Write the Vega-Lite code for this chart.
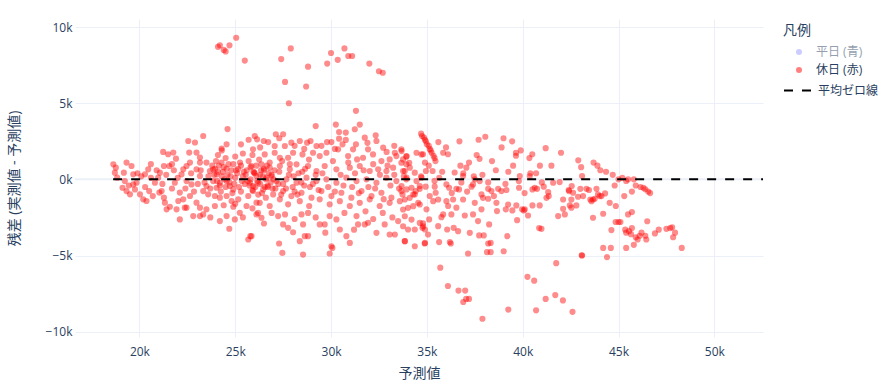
{
"$schema":"https://vega.github.io/schema/vega-lite/v6.json",
"autosize":{"type":"none"},
"width":688,"height":318,
"padding":{"left":75,"top":19,"right":120,"bottom":49},
"background":"white",
"config":{"view":{"stroke":null},"font":"Open Sans, Noto Sans CJK JP, sans-serif"},
"datasets":{"pts":[
{"x":24100,"y":8700},{"x":24200,"y":8800},{"x":24400,"y":8500},{"x":24500,"y":8400},{"x":24700,"y":8800},{"x":25050,"y":9300},{"x":25500,"y":7800},{"x":27400,"y":7900},{"x":27900,"y":8600},{"x":27600,"y":6400},{"x":27800,"y":5000},{"x":28800,"y":7400},{"x":28700,"y":6100},{"x":29800,"y":7600},{"x":30000,"y":8300},{"x":30350,"y":7850},{"x":30700,"y":8600},{"x":30900,"y":8100},{"x":31100,"y":8100},{"x":31300,"y":4500},{"x":32000,"y":7600},{"x":32500,"y":7100},{"x":32700,"y":7000},{"x":31500,"y":3600},{"x":29200,"y":3500},{"x":24600,"y":3300},{"x":30250,"y":3600},{"x":31240,"y":3290},
{"x":35700,"y":-5800},{"x":36100,"y":-7000},{"x":36650,"y":-7300},{"x":37000,"y":-7300},{"x":37050,"y":-7850},{"x":36900,"y":-8050},{"x":37200,"y":-7850},{"x":37900,"y":-9150},{"x":39250,"y":-8550},{"x":40250,"y":-6400},{"x":40600,"y":-6650},{"x":40700,"y":-8600},{"x":41200,"y":-7850},{"x":41700,"y":-7600},{"x":42100,"y":-7950},{"x":42600,"y":-8700},{"x":41750,"y":-5500},{"x":43100,"y":-5000},{"x":44400,"y":-5100},{"x":44200,"y":-4500},{"x":44600,"y":-4500},{"x":45400,"y":-4500},{"x":45800,"y":-4300},{"x":48300,"y":-4500},
{"x":44700,"y":300},{"x":45000,"y":0},{"x":45200,"y":100},{"x":45400,"y":-100},{"x":45500,"y":0},{"x":45800,"y":0},{"x":44800,"y":-400},{"x":45300,"y":-1100},{"x":45900,"y":-400},{"x":46150,"y":-500},{"x":46300,"y":-550},{"x":46400,"y":-650},{"x":46550,"y":-800},{"x":46650,"y":-900},{"x":45700,"y":-800},
{"x":44850,"y":-2800},{"x":45000,"y":-2800},{"x":45100,"y":-2800},{"x":45350,"y":-3300},{"x":45400,"y":-3500},{"x":45550,"y":-3400},{"x":45700,"y":-3200},{"x":45700,"y":-2150},{"x":45500,"y":-2300},{"x":45650,"y":-3600},{"x":45900,"y":-3800},{"x":46000,"y":-3950},{"x":46100,"y":-3700},{"x":46200,"y":-3500},{"x":46400,"y":-3700},{"x":46450,"y":-3950},{"x":46500,"y":-2750},{"x":46900,"y":-3550},{"x":47100,"y":-3300},{"x":47500,"y":-3250},{"x":47700,"y":-3200},{"x":47800,"y":-3150},{"x":47950,"y":-3500},{"x":47850,"y":-3800},
{"x":34700,"y":3000},{"x":34850,"y":2750},{"x":34950,"y":2500},{"x":35100,"y":2200},{"x":35150,"y":2000},{"x":35250,"y":1750},{"x":35350,"y":1550},{"x":35450,"y":1200},{"x":35600,"y":2450},{"x":35850,"y":1750},{"x":36000,"y":2100},{"x":36100,"y":1650},{"x":34800,"y":1650},{"x":34900,"y":1100},{"x":35100,"y":900},{"x":35300,"y":550},{"x":34950,"y":550},{"x":34700,"y":200},{"x":35400,"y":-100},{"x":35650,"y":100},{"x":36700,"y":2500},{"x":37700,"y":2600},{"x":38050,"y":2800},{"x":37600,"y":1600},{"x":37750,"y":1350},{"x":36750,"y":900},{"x":37200,"y":1100},{"x":36450,"y":450},{"x":36900,"y":400},{"x":37450,"y":200},{"x":38200,"y":-200},{"x":38600,"y":600},{"x":39000,"y":2700},{"x":38900,"y":2100},{"x":39450,"y":2500},{"x":39250,"y":500},{"x":39650,"y":1550},{"x":39900,"y":1900},{"x":39650,"y":1750},{"x":40350,"y":1400},{"x":40500,"y":1650},{"x":40400,"y":400},{"x":40700,"y":400},{"x":41200,"y":2050},{"x":41500,"y":900},{"x":42000,"y":1750},{"x":42900,"y":1250},{"x":43050,"y":800},{"x":43700,"y":1100},{"x":43900,"y":900},{"x":44050,"y":600},{"x":44350,"y":500},
{"x":34630,"y":-440},{"x":34940,"y":-480},{"x":35410,"y":-480},{"x":35460,"y":-880},{"x":36020,"y":-330},{"x":36160,"y":-550},{"x":36540,"y":-620},{"x":36680,"y":-660},{"x":37410,"y":-330},{"x":37330,"y":-480},{"x":37850,"y":-990},{"x":37930,"y":-1210},{"x":38200,"y":-620},{"x":38720,"y":-620},{"x":39150,"y":-700},{"x":39800,"y":-110},{"x":39810,"y":-550},{"x":40510,"y":-660},{"x":40750,"y":-620},{"x":41100,"y":-480},{"x":41330,"y":-840},{"x":41930,"y":-180},{"x":42400,"y":-700},{"x":42560,"y":-440},{"x":43010,"y":-620},{"x":43460,"y":-700},{"x":43850,"y":-620},{"x":44300,"y":-920},{"x":44020,"y":-1100},{"x":43670,"y":-1320},{"x":43150,"y":-1100},{"x":42890,"y":-1140},{"x":42540,"y":-1320},{"x":42110,"y":-1320},{"x":42460,"y":-1710},{"x":42800,"y":-1710},{"x":42110,"y":-1930},{"x":41850,"y":-2410},{"x":42200,"y":-2300},{"x":40890,"y":-1710},{"x":40510,"y":-1710},{"x":40110,"y":-1970},{"x":39670,"y":-1710},{"x":39240,"y":-1650},{"x":38890,"y":-770},{"x":38630,"y":-1540},{"x":38200,"y":-1270},{"x":37850,"y":-1970},{"x":37500,"y":-1540},{"x":36890,"y":-1320},{"x":36540,"y":-1860},{"x":36280,"y":-2300},{"x":35850,"y":-2300},{"x":35590,"y":-3070},{"x":36060,"y":-3290},{"x":36400,"y":-3180},{"x":36630,"y":-3400},{"x":36980,"y":-2370},{"x":37410,"y":-2300},{"x":37240,"y":-3510},{"x":37730,"y":-3680},{"x":37970,"y":-3680},{"x":37670,"y":-2740},{"x":38250,"y":-2960},{"x":38660,"y":-2080},{"x":39120,"y":-1970},{"x":39460,"y":-2040},{"x":39710,"y":-2680},{"x":39970,"y":-1970},{"x":40280,"y":-2370},{"x":40860,"y":-3200},{"x":39200,"y":-3730},{"x":38200,"y":-4210},{"x":38330,"y":-4170},{"x":38140,"y":-4780},{"x":38330,"y":-4780},{"x":39010,"y":-4720},{"x":37150,"y":-4870},{"x":36200,"y":-4120},{"x":36250,"y":-4210},{"x":35640,"y":-4120},{"x":34890,"y":-4210},{"x":35060,"y":-3620},{"x":34770,"y":-3180},{"x":35760,"y":-2480},{"x":44200,"y":-2260},{"x":43670,"y":-2520},{"x":44630,"y":-3330},{"x":43080,"y":-4980},{"x":40060,"y":-2040},
{"x":36890,"y":220},{"x":37060,"y":770},{"x":37760,"y":-110},{"x":37500,"y":0},{"x":38370,"y":-770},{"x":39850,"y":220},{"x":40370,"y":220},{"x":40630,"y":-550},{"x":41360,"y":-1100},{"x":41590,"y":-220},{"x":42420,"y":-770},{"x":43100,"y":220},{"x":43330,"y":-620},{"x":43530,"y":-1320},{"x":43760,"y":-1270},{"x":44110,"y":-1100},{"x":44540,"y":-1540},{"x":44860,"y":-1750},{"x":35590,"y":-1320},{"x":35150,"y":-1100},{"x":35330,"y":-1430},{"x":36020,"y":-1430},{"x":34980,"y":-1970},{"x":34800,"y":-2890},{"x":35120,"y":-2630},{"x":36370,"y":-1320},{"x":36110,"y":-1750},
{"x":18640,"y":990},{"x":18770,"y":770},{"x":18720,"y":440},{"x":18840,"y":110},{"x":19190,"y":440},{"x":19330,"y":1100},{"x":19590,"y":880},{"x":19680,"y":330},{"x":19240,"y":-110},{"x":19120,"y":-550},{"x":19330,"y":-770},{"x":19510,"y":-980},{"x":19680,"y":-330},{"x":19850,"y":-220},{"x":19770,"y":-660},{"x":20030,"y":-980},{"x":20200,"y":-1310},{"x":20370,"y":-1420},{"x":20510,"y":-770},{"x":20460,"y":660},{"x":20290,"y":330},{"x":20810,"y":-220},{"x":20980,"y":110},{"x":21070,"y":440},{"x":21160,"y":-770},{"x":21040,"y":-870},{"x":21280,"y":-1200},{"x":21330,"y":-1530},{"x":21420,"y":-1970},{"x":21590,"y":-1800},{"x":21240,"y":1800},{"x":21500,"y":1650},{"x":21770,"y":1760},{"x":21910,"y":1360},{"x":21560,"y":880},{"x":21280,"y":880},{"x":21850,"y":-220},{"x":22200,"y":330},{"x":22290,"y":660},{"x":22460,"y":880},{"x":22640,"y":1100},{"x":22600,"y":1760},{"x":22550,"y":2520},{"x":22900,"y":2420},{"x":22980,"y":1760},{"x":23160,"y":1430},{"x":23330,"y":2850},{"x":22980,"y":660},{"x":23160,"y":220},{"x":22460,"y":-110},{"x":22720,"y":-330},{"x":22110,"y":-870},{"x":22030,"y":-1420},{"x":21940,"y":-1970},{"x":22290,"y":-1310},{"x":22460,"y":-1860},{"x":22640,"y":-1090},{"x":22980,"y":-1530},{"x":23160,"y":-1860},{"x":22810,"y":-2410},{"x":23160,"y":-2410},{"x":23330,"y":-2300},{"x":23500,"y":-1970},{"x":23940,"y":-1750},{"x":23590,"y":-980},{"x":23940,"y":-1090},{"x":23330,"y":-770},{"x":23500,"y":-440},{"x":24030,"y":-550},{"x":24200,"y":-220},{"x":24030,"y":330},{"x":24290,"y":1100},{"x":24550,"y":2300},{"x":24290,"y":2020},{"x":23850,"y":660},{"x":23500,"y":1100},{"x":23160,"y":1100},{"x":24200,"y":-2740},{"x":24550,"y":-2410},{"x":24690,"y":-3240},{"x":24900,"y":-1800},{"x":24980,"y":-2630},{"x":25160,"y":-1310},{"x":25240,"y":-2190},{"x":25680,"y":-3950},{"x":25850,"y":-3730},{"x":26110,"y":-2300},{"x":25590,"y":-1750},{"x":25680,"y":-1090},{"x":25940,"y":-440},{"x":23680,"y":550},{"x":23850,"y":-110},{"x":24550,"y":-110},{"x":24720,"y":-440},{"x":24900,"y":-660},{"x":24200,"y":-1200},{"x":24550,"y":-1090},{"x":24810,"y":-1420},{"x":22110,"y":-2630},{"x":22370,"y":-1860},{"x":26110,"y":-1530},{"x":25770,"y":-220},
{"x":23800,"y":900},{"x":24000,"y":1200},{"x":24100,"y":500},{"x":24300,"y":200},{"x":24400,"y":800},{"x":24500,"y":1400},{"x":24600,"y":300},{"x":24700,"y":-200},{"x":24800,"y":600},{"x":24900,"y":1000},{"x":25000,"y":100},{"x":25100,"y":400},{"x":25200,"y":-500},{"x":25300,"y":900},{"x":25400,"y":200},{"x":25500,"y":-300},{"x":25600,"y":600},{"x":25700,"y":1200},{"x":25800,"y":0},{"x":25900,"y":-700},{"x":26000,"y":400},{"x":26100,"y":900},{"x":26200,"y":-200},{"x":26300,"y":300},{"x":26400,"y":-900},{"x":26500,"y":700},{"x":26600,"y":0},{"x":26700,"y":-400},{"x":26800,"y":1100},{"x":26900,"y":200},{"x":23900,"y":300},{"x":24200,"y":-400},{"x":24450,"y":0},{"x":24650,"y":1000},{"x":24950,"y":-300},{"x":25150,"y":700},{"x":25350,"y":-100},{"x":25550,"y":300},{"x":25750,"y":-400},{"x":25950,"y":500},{"x":26150,"y":-100},{"x":26350,"y":600},{"x":26550,"y":-500},{"x":26750,"y":400},{"x":26950,"y":-600},{"x":24100,"y":1600},{"x":24300,"y":1900},{"x":25000,"y":1500},{"x":25400,"y":1700},{"x":25900,"y":1600},
{"x":26020,"y":2850},{"x":26140,"y":2630},{"x":26490,"y":2520},{"x":26720,"y":2450},{"x":27120,"y":2960},{"x":27500,"y":2960},{"x":27060,"y":2190},{"x":27590,"y":2190},{"x":27930,"y":2410},{"x":28370,"y":2520},{"x":28750,"y":2410},{"x":28930,"y":2520},{"x":29240,"y":2190},{"x":29790,"y":2450},{"x":30020,"y":2450},{"x":30420,"y":3110},{"x":30420,"y":2670},{"x":30770,"y":3070},{"x":30770,"y":2590},{"x":31760,"y":2740},{"x":32330,"y":2890},{"x":32370,"y":2520},{"x":31930,"y":1970},{"x":32720,"y":2080},{"x":33330,"y":1750},{"x":33670,"y":1970},{"x":33930,"y":1490},{"x":25930,"y":1970},
{"x":26540,"y":1640},{"x":27060,"y":1750},{"x":27330,"y":1420},{"x":27760,"y":1420},{"x":28020,"y":1750},{"x":28510,"y":1640},{"x":29060,"y":1750},{"x":29410,"y":1530},{"x":29760,"y":1750},{"x":30370,"y":1970},{"x":30890,"y":1530},{"x":31150,"y":1970},{"x":31360,"y":1310},{"x":31670,"y":1420},{"x":32190,"y":1640},{"x":32630,"y":1200},{"x":33060,"y":1310},{"x":33410,"y":1530},{"x":33670,"y":1090},{"x":33930,"y":990},
{"x":25850,"y":880},{"x":26370,"y":990},{"x":26800,"y":770},{"x":27330,"y":880},{"x":27850,"y":660},{"x":28200,"y":990},{"x":28800,"y":880},{"x":29240,"y":550},{"x":29670,"y":880},{"x":30280,"y":660},{"x":30980,"y":770},{"x":31500,"y":880},{"x":32020,"y":550},{"x":32460,"y":660},{"x":32890,"y":550},{"x":33240,"y":770},{"x":33760,"y":550},
{"x":26110,"y":220},{"x":26630,"y":110},{"x":27150,"y":-110},{"x":27670,"y":0},{"x":28200,"y":-220},{"x":28720,"y":110},{"x":29240,"y":-110},{"x":29760,"y":0},{"x":30280,"y":-220},{"x":30800,"y":110},{"x":31330,"y":-110},{"x":31850,"y":0},{"x":32370,"y":-220},{"x":32890,"y":110},{"x":33410,"y":-110},{"x":33930,"y":0},
{"x":25930,"y":-770},{"x":26460,"y":-660},{"x":26980,"y":-990},{"x":27500,"y":-770},{"x":27930,"y":-1100},{"x":28460,"y":-880},{"x":28980,"y":-1200},{"x":29500,"y":-770},{"x":30020,"y":-1100},{"x":30540,"y":-880},{"x":31060,"y":-1200},{"x":31590,"y":-770},{"x":32110,"y":-1100},{"x":32630,"y":-880},{"x":33150,"y":-1200},{"x":33670,"y":-770},{"x":26280,"y":-1540},{"x":26800,"y":-1750},{"x":27330,"y":-1310},{"x":27760,"y":-1640},{"x":28370,"y":-1430},{"x":28860,"y":-1750},{"x":29410,"y":-1310},{"x":29930,"y":-1640},{"x":30460,"y":-1430},{"x":30980,"y":-1750},{"x":31500,"y":-1540},{"x":32020,"y":-1310},{"x":32540,"y":-1750},{"x":33060,"y":-1540},{"x":33590,"y":-1430},
{"x":26190,"y":-2200},{"x":26370,"y":-2520},{"x":27240,"y":-2410},{"x":27500,"y":-2960},{"x":27760,"y":-3180},{"x":28020,"y":-3470},{"x":28460,"y":-2300},{"x":28540,"y":-2960},{"x":28370,"y":-4060},{"x":28630,"y":-3730},{"x":28800,"y":-3730},{"x":29410,"y":-2960},{"x":29670,"y":-2960},{"x":29930,"y":-2410},{"x":30020,"y":-4390},{"x":30070,"y":-4500},{"x":30280,"y":-2630},{"x":30460,"y":-3290},{"x":30800,"y":-3730},{"x":30980,"y":-4170},{"x":31330,"y":-2410},{"x":31410,"y":-2960},{"x":31760,"y":-2960},{"x":31930,"y":-2850},{"x":32370,"y":-3510},{"x":32800,"y":-2960},{"x":33060,"y":-3620},{"x":33330,"y":-3620},{"x":33500,"y":-2740},{"x":33850,"y":-4060},{"x":27290,"y":-4210},{"x":27460,"y":-4830},{"x":28540,"y":-4940},{"x":25790,"y":-3730},{"x":29930,"y":-4870},
{"x":26000,"y":450},{"x":26300,"y":-300},{"x":26500,"y":600},{"x":26700,"y":-500},{"x":26900,"y":300},{"x":27100,"y":-600},{"x":27300,"y":500},{"x":27500,"y":-300},{"x":27800,"y":300},{"x":28000,"y":-500},{"x":28300,"y":400},{"x":28600,"y":-400},{"x":26200,"y":-1000},{"x":26600,"y":-1200},{"x":27000,"y":0},{"x":27400,"y":-1000},{"x":28100,"y":-800},{"x":28500,"y":500},{"x":28900,"y":-500},{"x":29200,"y":300},
{"x":33680,"y":1860},{"x":33760,"y":1310},{"x":33940,"y":1530},{"x":34080,"y":1090},{"x":33850,"y":550},{"x":34110,"y":770},{"x":34370,"y":440},{"x":33680,"y":-440},{"x":33940,"y":-660},{"x":34200,"y":-550},{"x":34420,"y":-770},{"x":34630,"y":-620},{"x":33850,"y":-1320},{"x":34110,"y":-1210},{"x":34370,"y":-990},{"x":34550,"y":-1540},{"x":33760,"y":-1980},{"x":34020,"y":-1870},{"x":34290,"y":-1760},{"x":34630,"y":-1650},{"x":33850,"y":-2420},{"x":34200,"y":-2640},{"x":33760,"y":-3080},{"x":34020,"y":-3290},{"x":34370,"y":-3290},{"x":33850,"y":-4060},{"x":34370,"y":-4390},{"x":34900,"y":-4170},{"x":34630,"y":-2860},{"x":34810,"y":-3080},{"x":34900,"y":-3290},{"x":34460,"y":-110},{"x":34720,"y":110},{"x":34460,"y":1750},{"x":34720,"y":1640},{"x":33940,"y":110},{"x":34290,"y":-990},{"x":33730,"y":-990},
{"x":34750,"y":2850},{"x":34900,"y":2600},{"x":35000,"y":2300},{"x":35200,"y":1900},{"x":35400,"y":1400},
{"x":42630,"y":-880},{"x":43930,"y":-990},{"x":41240,"y":-1210},{"x":42540,"y":-1860},{"x":40980,"y":-3250},{"x":43590,"y":-1430},
{"x":23200,"y":600},{"x":23400,"y":-200},{"x":23600,"y":200},{"x":23700,"y":-600},{"x":23950,"y":700},{"x":24050,"y":-100},{"x":24150,"y":900},{"x":24250,"y":-800},{"x":24350,"y":500},{"x":24500,"y":-500},{"x":24550,"y":700},{"x":24750,"y":200},{"x":24850,"y":-900},{"x":25050,"y":600},{"x":25250,"y":1100},{"x":25300,"y":-800},{"x":25450,"y":500},{"x":25650,"y":-100},{"x":25800,"y":800},{"x":26050,"y":-500},{"x":26250,"y":1300},{"x":26450,"y":200},{"x":26650,"y":900},{"x":26850,"y":-200},{"x":27050,"y":600},{"x":27250,"y":-300},{"x":27450,"y":1200},{"x":27650,"y":-600},{"x":27850,"y":1000},{"x":28050,"y":200},{"x":28250,"y":-1000},{"x":28450,"y":-200},{"x":28650,"y":700},{"x":28850,"y":1300},{"x":29050,"y":-300},{"x":29350,"y":-700},{"x":29550,"y":400},{"x":29850,"y":-500},{"x":30100,"y":1200},{"x":30200,"y":-800},{"x":30500,"y":300},{"x":30650,"y":-400},{"x":30900,"y":1100},{"x":31100,"y":-500},{"x":31250,"y":400},{"x":31450,"y":-900},{"x":31700,"y":600},{"x":31950,"y":-500},{"x":32200,"y":1000},{"x":32300,"y":-600},{"x":32550,"y":300},{"x":32750,"y":-1300},{"x":32950,"y":900},{"x":33100,"y":-400},{"x":33300,"y":300},{"x":33550,"y":-600},{"x":33800,"y":200},
{"x":20100,"y":200},{"x":20300,"y":-500},{"x":20600,"y":100},{"x":20700,"y":-1100},{"x":20900,"y":600},{"x":21200,"y":-300},{"x":21400,"y":300},{"x":21700,"y":-600},{"x":21800,"y":600},{"x":22000,"y":100},{"x":22400,"y":-600},{"x":22700,"y":400},{"x":22850,"y":-800},{"x":23050,"y":-300},{"x":20600,"y":1000},{"x":21700,"y":1000},{"x":19900,"y":400},{"x":19450,"y":-400},
{"x":25300,"y":2300},{"x":25700,"y":2600},{"x":26300,"y":2100},{"x":27300,"y":2700},{"x":28100,"y":2200},{"x":28600,"y":2000},{"x":29500,"y":2200},{"x":30200,"y":2000},{"x":30600,"y":2300},{"x":31300,"y":2300},{"x":31900,"y":2400},{"x":32900,"y":1800},{"x":33300,"y":2200},
{"x":25000,"y":-1600},{"x":25400,"y":-2500},{"x":25900,"y":-1900},{"x":26500,"y":-2900},{"x":26900,"y":-2200},{"x":27600,"y":-2300},{"x":28100,"y":-2600},{"x":28800,"y":-2200},{"x":29200,"y":-2500},{"x":29700,"y":-3500},{"x":30700,"y":-2200},{"x":31200,"y":-3300},{"x":31800,"y":-2100},{"x":32200,"y":-2600},{"x":32700,"y":-2200},{"x":33200,"y":-2500},{"x":23700,"y":-2500},{"x":24400,"y":-1700},
{"x":35800,"y":500},{"x":36300,"y":-900},{"x":36800,"y":-200},{"x":37100,"y":-800},{"x":37900,"y":300},{"x":38400,"y":1200},{"x":38500,"y":-1100},{"x":39100,"y":-300},{"x":39500,"y":900},{"x":40100,"y":-900},{"x":40900,"y":900},{"x":41000,"y":-200}
],
"line":[{"x":18630,"x2":52540,"y":0}]},
"encoding":{
"x":{"field":"x","type":"quantitative","scale":{"domain":[16640,52540],"nice":false,"zero":false},
"axis":{"title":"予測値","values":[20000,25000,30000,35000,40000,45000,50000],"format":"~s","grid":true,"gridColor":"#ebf0f8","domain":false,"ticks":false,"labelPadding":9,"labelFontSize":12,"labelColor":"#2a3f5f","titleFontSize":14,"titleColor":"#2a3f5f","titleFontWeight":"normal","titlePadding":9}},
"y":{"field":"y","type":"quantitative","scale":{"domain":[-10350,10530],"nice":false,"zero":false},
"axis":{"title":"残差 (実測値 - 予測値)","values":[-10000,-5000,0,5000,10000],"format":"~s","grid":true,"gridColor":"#ebf0f8","domain":false,"ticks":false,"labelPadding":3,"labelFontSize":12,"labelColor":"#2a3f5f","titleFontSize":14,"titleColor":"#2a3f5f","titleFontWeight":"normal","titlePadding":24}}
},
"layer":[
{"data":{"name":"line"},"mark":{"type":"rule","color":"#ebf0f8","strokeWidth":2},"encoding":{"x":null,"x2":null}},
{"data":{"name":"pts"},"mark":{"type":"circle","size":38,"opacity":0.45},
"encoding":{"color":{"datum":"休日 (赤)","type":"nominal","scale":{"domain":["平日 (青)","休日 (赤)"],"range":["#9999ff","#ff0000"]},
"legend":{"title":"凡例","orient":"none","legendX":708,"legendY":5,"padding":0,"titleFontSize":14,"titleColor":"#2a3f5f","titleFontWeight":"normal","titlePadding":8,"labelFontSize":12,"labelColor":{"expr":"datum.label == '平日 (青)' ? '#949faf' : '#2a3f5f'"},"symbolType":"circle","symbolSize":36,"symbolOpacity":0.5,"symbolStrokeWidth":0,"symbolOffset":10,"labelOffset":11,"rowPadding":6}}}},
{"data":{"name":"line"},"mark":{"type":"rule","color":"black","strokeWidth":2,"clip":true},
"encoding":{"x2":{"field":"x2"},"strokeDash":{"datum":"平均ゼロ線","type":"nominal","scale":{"domain":["平均ゼロ線"],"range":[[9,9]]},
"legend":{"title":null,"orient":"none","legendX":708,"legendY":57,"padding":0,"labelFontSize":12,"labelColor":"#2a3f5f","symbolType":"stroke","symbolSize":729,"symbolStrokeColor":"black","symbolStrokeWidth":2,"symbolOffset":0,"labelOffset":6}}}}
]
}
